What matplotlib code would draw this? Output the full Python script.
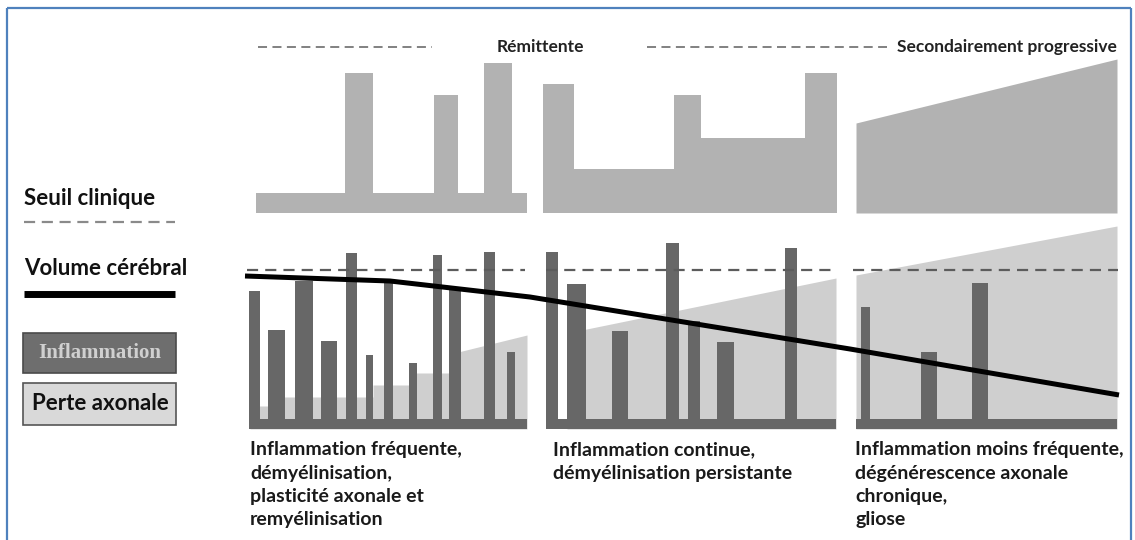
import matplotlib
matplotlib.use("Agg")
import matplotlib.pyplot as plt
from matplotlib.patches import Rectangle

# ---------------- data (schematic units, y grows upward) ----------------
# Top panel: clinical relapses (step profiles) per phase
relapse1_edges = [256, 345, 373, 434, 458, 484, 512, 527]
relapse1_levels = [347, 467, 347, 445, 347, 477, 347]
relapse2_edges = [543, 574, 674, 701, 805, 837]
relapse2_levels = [456, 371, 445, 402, 467]
progress3_x = [856, 1117]
progress3_y = [417, 481]
top_floor = 327

# Bottom panel: inflammation bars (left edge, right edge, top)
infl_left = [249, 268, 295, 321, 346, 366, 384, 409, 433, 449, 484, 507,
             546, 567, 612, 666, 688, 717, 785,
             861, 921, 972]
infl_right = [260, 285, 313, 337, 357, 373, 393, 417, 442, 461, 495, 515,
              558, 586, 628, 679, 700, 734, 797,
              870, 937, 988]
infl_top = [249, 210, 259, 199, 287, 185, 257, 177, 285, 250, 288, 188,
            288, 256, 209, 297, 219, 198, 292,
            233, 188, 257]
bar_floor = 111
strip_top = 121
phase_left = [250, 546, 856]
phase_right = [527, 836, 1117]

# Axonal loss profiles
axon1_x = [250, 268, 268, 373, 373, 415, 415, 458, 458, 527]
axon1_y = [134, 134, 143, 143, 155, 155, 167, 167, 188, 205]
axon2_x = [567, 836]
axon2_y = [207, 262]
axon3_x = [856, 1117]
axon3_y = [265, 314]

# Clinical threshold
threshold = 270
threshold_left = [247, 546, 853]
threshold_right = [525, 837, 1118]

# Brain volume
volume_x = [245, 390, 530, 850, 1119]
volume_y = [264, 259, 243, 191, 145]

# Text
phase_texts = [
    ["Inflammation fréquente,", "démyélinisation,", "plasticité axonale et", "remyélinisation"],
    ["Inflammation continue,", "démyélinisation persistante"],
    ["Inflammation moins fréquente,", "dégénérescence axonale", "chronique,", "gliose"],
]
phase_text_x = [250, 553, 855]
top_labels = ["Rémittente", "Secondairement progressive"]

# ---------------- colours ----------------
C_TOP = "#b2b2b2"
C_BAR = "#676767"
C_AXON = "#cfcfcf"
C_DASH = "#5c5c5c"
C_FRAME = "#4f81bd"
SANS = ["Lato", "DejaVu Sans"]

fig = plt.figure(figsize=(11.35, 5.4), dpi=100)
ax = fig.add_axes([0, 0, 1, 1])
ax.set_xlim(0, 1135)
ax.set_ylim(0, 540)
ax.axis("off")

# Frame lines
ax.plot([7, 7], [0, 532], color=C_FRAME, lw=1.6, solid_capstyle="butt")
ax.plot([7, 1131], [532, 532], color=C_FRAME, lw=1.6, solid_capstyle="butt")
ax.plot([1131, 1131], [0, 532], color=C_FRAME, lw=1.6, solid_capstyle="butt")

# ---------------- top panel ----------------
ax.stairs(relapse1_levels, relapse1_edges, baseline=top_floor, fill=True, color=C_TOP, lw=0)
ax.stairs(relapse2_levels, relapse2_edges, baseline=top_floor, fill=True, color=C_TOP, lw=0)
ax.fill_between(progress3_x, top_floor, progress3_y, color=C_TOP, lw=0)

# top labels with dashes
ax.plot([258, 432], [493, 493], color="#777777", lw=1.3, dashes=(5, 3))
ax.plot([647, 887], [493, 493], color="#777777", lw=1.3, dashes=(5, 3))
ax.text(540, 488, top_labels[0], ha="center", va="baseline", fontsize=12.5,
        fontweight="bold", family=SANS, color="#222222")
ax.text(1117, 488, top_labels[1], ha="right", va="baseline", fontsize=12.5,
        fontweight="bold", family=SANS, color="#222222")

# ---------------- bottom panel ----------------
ax.fill_between(axon1_x, bar_floor, axon1_y, color=C_AXON, lw=0, zorder=1)
ax.fill_between(axon2_x, bar_floor, axon2_y, color=C_AXON, lw=0, zorder=1)
ax.fill_between(axon3_x, bar_floor, axon3_y, color=C_AXON, lw=0, zorder=1)

widths = [r - l for l, r in zip(infl_left, infl_right)]
heights = [t - bar_floor for t in infl_top]
ax.bar(infl_left, heights, width=widths, bottom=bar_floor, align="edge",
       color=C_BAR, lw=0, zorder=2)
ax.bar(phase_left, [strip_top - bar_floor] * 3,
       width=[r - l for l, r in zip(phase_left, phase_right)],
       bottom=bar_floor, align="edge", color=C_BAR, lw=0, zorder=2)

for l, r in zip(threshold_left, threshold_right):
    ax.plot([l, r], [threshold, threshold], color=C_DASH, lw=1.6,
            dashes=(5, 3.2), zorder=3)

ax.plot(volume_x, volume_y, color="black", lw=3.6, zorder=4, solid_capstyle="butt")

# phase descriptions
for tx, lines in zip(phase_text_x, phase_texts):
    for i, line in enumerate(lines):
        ax.text(tx, 85 - i * 23.5, line, ha="left", va="baseline", fontsize=14,
                fontweight="bold", family=SANS, color="#1a1a1a")

# ---------------- legend (left) ----------------
ax.text(24, 335, "Seuil clinique", ha="left", va="baseline", fontsize=16,
        fontweight="bold", family=SANS, color="#111111")
ax.plot([24, 175], [318, 318], color="#8a8a8a", lw=1.6, dashes=(5, 3))
ax.text(24, 265, "Volume cérébral", ha="left", va="baseline", fontsize=16,
        fontweight="bold", family=SANS, color="#111111")
ax.plot([24, 175], [246, 246], color="black", lw=5, solid_capstyle="butt")

ax.add_patch(Rectangle((23, 167), 153, 40, facecolor="#6e6e6e",
                       edgecolor="#4a4a4a", lw=1.2))
ax.text(100, 187, "Inflammation", ha="center", va="center", fontsize=15,
        fontweight="bold", family=["Liberation Serif", "DejaVu Serif"], color="#d0d0d0")
ax.add_patch(Rectangle((23, 115), 153, 42, facecolor="#d9d9d9",
                       edgecolor="#555555", lw=1.2))
ax.text(100, 136, "Perte axonale", ha="center", va="center", fontsize=16,
        fontweight="bold", family=SANS, color="#111111")

fig.savefig("out.png", dpi=100)
